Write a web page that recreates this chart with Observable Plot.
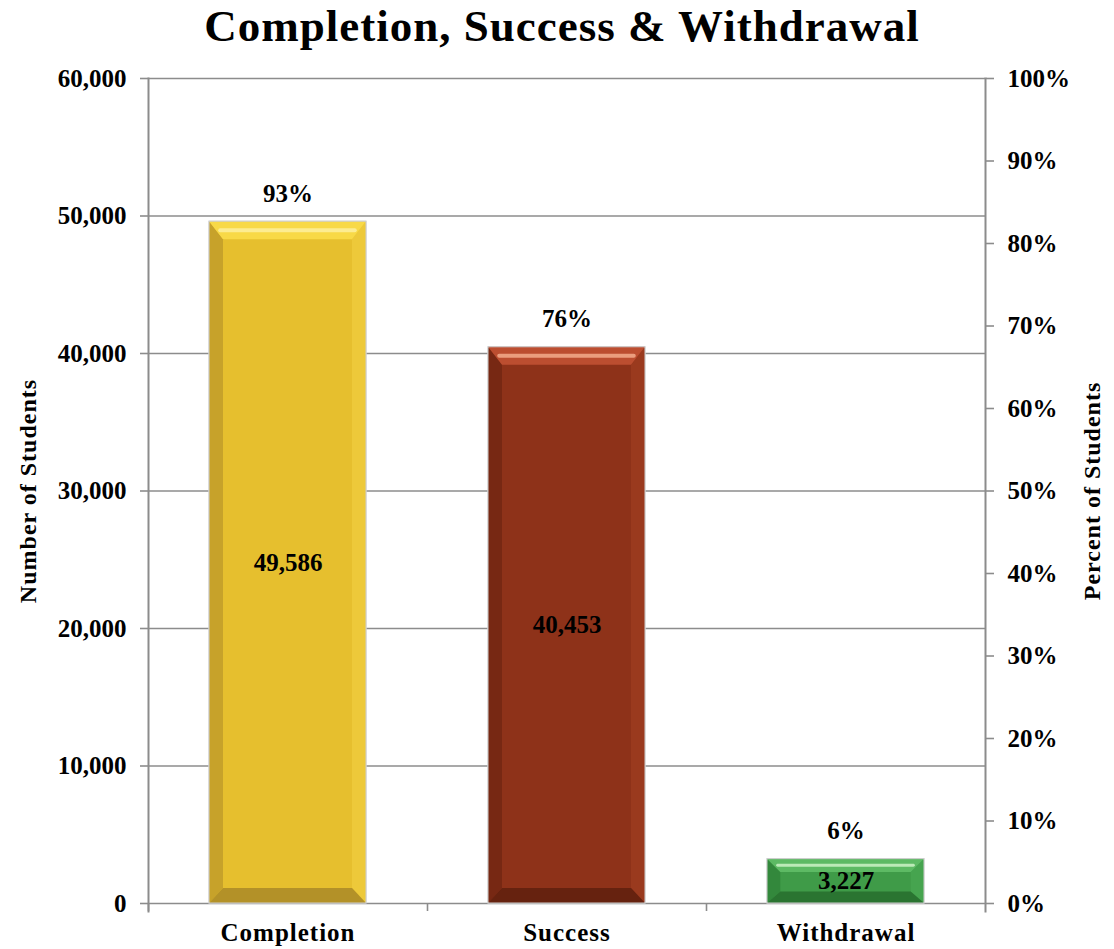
<!DOCTYPE html>
<html><head><meta charset="utf-8">
<script src="https://cdn.jsdelivr.net/npm/d3@7"></script>
<script src="https://cdn.jsdelivr.net/npm/@observablehq/plot@0.6"></script>
<style>
html,body{margin:0;padding:0;background:#fff;overflow:hidden}
#title{font-family:"Liberation Serif",serif;font-weight:bold;font-size:45px;letter-spacing:1px;height:60px;line-height:52px;text-align:center;padding-left:10px;width:1104px;color:#000}
#chart svg{display:block}
</style></head><body>
<div id="title">Completion, Success &amp; Withdrawal</div>
<div id="chart"></div>
<script>
// ---- data ----
const categories = ["Completion", "Success", "Withdrawal"];
const counts = [49586, 40453, 3227];
const percents = [93, 76, 6];
const leftTicks = [0, 10000, 20000, 30000, 40000, 50000, 60000];
const rightTickLabels = ["0%", "10%", "20%", "30%", "40%", "50%", "60%", "70%", "80%", "90%", "100%"];
const yMax = 60000;

// ---- styles ----
const palette = {
  Completion: {face: "#E6BF2E", top: "#F8D947", hi: "#FDF0A0", bottom: "#B39128", left: "#C7A22A", right: "#EDC93A"},
  Success:    {face: "#8E3219", top: "#BC4E30", hi: "#F4AC8C", bottom: "#66220F", left: "#772813", right: "#9A3A1E"},
  Withdrawal: {face: "#3F9B48", top: "#5DBA64", hi: "#CDF3C7", bottom: "#2A7431", left: "#33883C", right: "#46A44F"}
};
const gray = "#8c8c8c";
const W = 1114, H = 889, mL = 148, mR = 129, mT = 18, mB = 46;
const step = (W - mL - mR) / categories.length;
const barInset = 61;

const rows = categories.map((c, i) => ({category: c, count: counts[i], pct: percents[i]}));
const rightTicks = rightTickLabels.map((_, i) => i * yMax / (rightTickLabels.length - 1));

const chart = Plot.plot({
  width: W, height: H,
  marginLeft: mL, marginRight: mR, marginTop: mT, marginBottom: mB,
  style: {fontFamily: "'Liberation Serif', serif", fontSize: "25px", fontWeight: "bold", background: "#fff", color: "#000"},
  x: {domain: categories, padding: 0, axis: null},
  y: {domain: [0, yMax], axis: null},
  marks: [
    Plot.ruleY(leftTicks, {stroke: gray, strokeWidth: 1.6}),
    Plot.frame({anchor: "left", stroke: gray, strokeWidth: 2, insetBottom: -8}),
    Plot.frame({anchor: "right", stroke: gray, strokeWidth: 2, insetBottom: -8}),
    Plot.axisY({anchor: "left", ticks: leftTicks, tickSize: 8, tickPadding: 14, tickFormat: d3.format(","),
      stroke: gray, strokeWidth: 1.6, fill: "#000", fontSize: 25, label: null}),
    Plot.axisY({anchor: "right", ticks: rightTicks, tickSize: 8, tickPadding: 14,
      tickFormat: d => rightTickLabels[Math.round(d / yMax * (rightTickLabels.length - 1))],
      stroke: gray, strokeWidth: 1.6, fill: "#000", fontSize: 25, label: null}),
    Plot.axisX({anchor: "bottom", ticks: categories, tickSize: 8, dx: -step / 2, stroke: gray, strokeWidth: 1.6, fill: "none", label: null}),
    Plot.axisX({anchor: "bottom", tickSize: 0, tickPadding: 20, fill: "#000", fontSize: 25, label: null}),
    Plot.barY(rows, {x: "category", y: "count", fill: d => palette[d.category].face, stroke: "#d0d0d0", strokeWidth: 1,
      insetLeft: barInset, insetRight: barInset, className: "bevel-bars"}),
    Plot.text(rows, {x: "category", y: d => d.count / 2, text: d => d3.format(",")(d.count), fill: "#000", fontSize: 25, fontWeight: "bold"}),
    Plot.text(rows, {x: "category", y: "count", text: d => d.pct + "%", dy: -28, fill: "#000", fontSize: 25, fontWeight: "bold"}),
    Plot.text(["Number of Students"], {frameAnchor: "left", textAnchor: "middle", rotate: -90, dx: -120, fontSize: 24, fontWeight: "bold", fill: "#000", className: "ytitle"}),
    Plot.text(["Percent of Students"], {frameAnchor: "right", textAnchor: "middle", rotate: -90, dx: 107, fontSize: 24, fontWeight: "bold", fill: "#000", className: "ytitle"})
  ]
});
document.getElementById("chart").appendChild(chart);
chart.querySelectorAll("g.ytitle text").forEach(t => t.setAttribute("letter-spacing", "1"));
chart.querySelectorAll("g[aria-label='x-axis tick label'] text").forEach(t => t.setAttribute("letter-spacing", "1"));

// bevel decoration derived from the rendered bars
const ns = "http://www.w3.org/2000/svg";
const rects = chart.querySelectorAll("g.bevel-bars rect");
rects.forEach((r, i) => {
  const p = palette[rows[i].category];
  const x = +r.getAttribute("x"), y = +r.getAttribute("y"), w = +r.getAttribute("width"), h = +r.getAttribute("height");
  const bt = Math.min(18, h * 0.3), bb = Math.min(15, h * 0.26), bh = Math.min(14, h * 0.3);
  const g = document.createElementNS(ns, "g");
  g.setAttribute("stroke", "none");
  const poly = (pts, fill) => {
    const e = document.createElementNS(ns, "polygon");
    e.setAttribute("points", pts.map(q => q.join(",")).join(" "));
    e.setAttribute("fill", fill);
    e.setAttribute("stroke", "none");
    g.appendChild(e);
  };
  poly([[x, y], [x + bh, y + bt], [x + bh, y + h - bb], [x, y + h]], p.left);
  poly([[x + w, y], [x + w - bh, y + bt], [x + w - bh, y + h - bb], [x + w, y + h]], p.right);
  poly([[x, y], [x + w, y], [x + w - bh, y + bt], [x + bh, y + bt]], p.top);
  poly([[x, y + h], [x + w, y + h], [x + w - bh, y + h - bb], [x + bh, y + h - bb]], p.bottom);
  const hy = y + bt * 0.5;
  const hl = document.createElementNS(ns, "line");
  hl.setAttribute("x1", x + bh * 0.8); hl.setAttribute("x2", x + w - bh * 0.8);
  hl.setAttribute("y1", hy); hl.setAttribute("y2", hy);
  hl.setAttribute("stroke", p.hi); hl.setAttribute("stroke-width", Math.max(2, bt * 0.22));
  hl.setAttribute("stroke-linecap", "round"); hl.setAttribute("opacity", "0.85");
  g.appendChild(hl);
  const ol = document.createElementNS(ns, "rect");
  ol.setAttribute("x", x); ol.setAttribute("y", y); ol.setAttribute("width", w); ol.setAttribute("height", h);
  ol.setAttribute("fill", "none"); ol.setAttribute("stroke", "#cfcfcf"); ol.setAttribute("stroke-width", "1");
  g.appendChild(ol);
  r.parentNode.insertBefore(g, r.nextSibling);
});
</script>
</body></html>
